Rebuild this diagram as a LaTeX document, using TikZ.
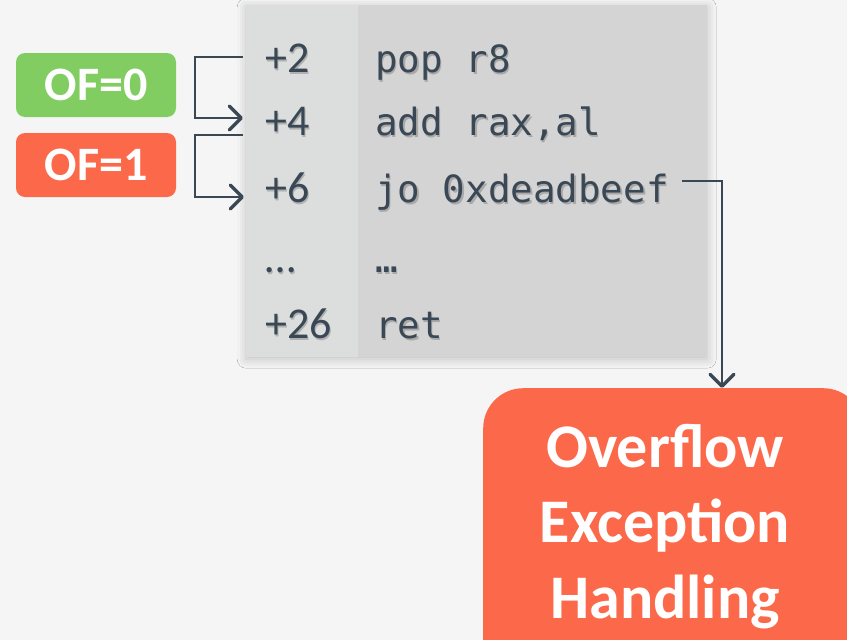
\documentclass[tikz,border=0pt]{standalone}
\usepackage{fontspec}
\setmainfont{Carlito}
\newfontfamily\codefont{DejaVu Sans Mono}
\usetikzlibrary{arrows.meta,shadows.blur}
\definecolor{bg}{HTML}{F5F5F5}
\definecolor{colA}{HTML}{DCDEDD}
\definecolor{colB}{HTML}{D4D4D4}
\definecolor{ink}{HTML}{3A4855}
\definecolor{okgreen}{HTML}{82CD62}
\definecolor{alert}{HTML}{FC694A}
\tikzset{
  conn/.style={draw=ink, line width=2pt,
    -{Straight Barb[length=12pt,width=24pt,line width=3.5pt,round]}},
  flagbox/.style={rounded corners=9pt, minimum width=160pt, minimum height=64pt,
    inner sep=0pt, text=white, font=\fontsize{48}{56}\selectfont\bfseries},
  offtxt/.style={inner sep=0pt, anchor=base west, text=ink,
    font=\fontsize{44}{50}\selectfont},
  codetxt/.style={inner sep=0pt, anchor=base west, text=ink,
    font=\codefont\fontsize{37.5}{44}\selectfont},
  txtshadow/.style={text=black, opacity=.2},
  exctxt/.style={inner sep=0pt, anchor=base, text=white,
    font=\fontsize{62}{75}\selectfont\bfseries},
}
\begin{document}
\begin{tikzpicture}[x=1pt,y=-1pt]
\fill[bg] (0,0) rectangle (847,640);
\useasboundingbox (0,0) rectangle (847,640);

% listing table: offsets column and code column
\node[fill=colB, minimum width=461pt, minimum height=352pt, inner sep=0pt,
  anchor=north west, blur shadow={shadow xshift=0pt, shadow yshift=-2pt,
  shadow blur radius=9pt, shadow opacity=22}] (listing) at (246,5) {};
\node[fill=colA, minimum width=112pt, minimum height=352pt, inner sep=0pt,
  anchor=north west] (offcol) at (246,5) {};

% each line is set twice: a faint offset copy gives the soft text shadow
\foreach \y/\off/\code [count=\i] in
  {72/+2/pop r8, 135/+4/{add rax,al}, 202/+6/{jo 0xdeadbeef},
   272/…/…, 338/+26/ret} {
  \node[offtxt, txtshadow] at (266.5,\y+2.5) {\off};
  \node[offtxt] (o\i) at (265,\y) {\off};
  \node[codetxt, txtshadow] at (376.5,\y+2.5) {\code};
  \node[codetxt] (c\i) at (375,\y) {\code};
}

% flag boxes
\node[flagbox, fill=okgreen] (of0) at (96,85) {OF=0};
\node[flagbox, fill=alert] (of1) at (96,165) {OF=1};

% exception handler
\node[fill=alert, rounded corners=40pt, minimum width=380pt, minimum height=300pt,
  inner sep=0pt, anchor=north west] (exc) at (483,388) {};
\node[exctxt] (exc1) at (665,467) {Overflow};
\node[exctxt] (exc2) at (665,542) {Exception};
\node[exctxt] (exc3) at (665,618) {Handling};

% control-flow connectors
\coordinate (from2) at (243,57);
\coordinate (to4) at (243,118);
\coordinate (from4) at (243,135);
\coordinate (to6) at (244,197);
\coordinate (jofrom) at (682,181);
\coordinate (excin) at (722,388);

\draw[conn] (from2) -- (195,57) |- (to4);
\draw[conn] (from4) -- (195,135) |- (to6);
\draw[conn] (jofrom) -| (excin);
\end{tikzpicture}
\end{document}
